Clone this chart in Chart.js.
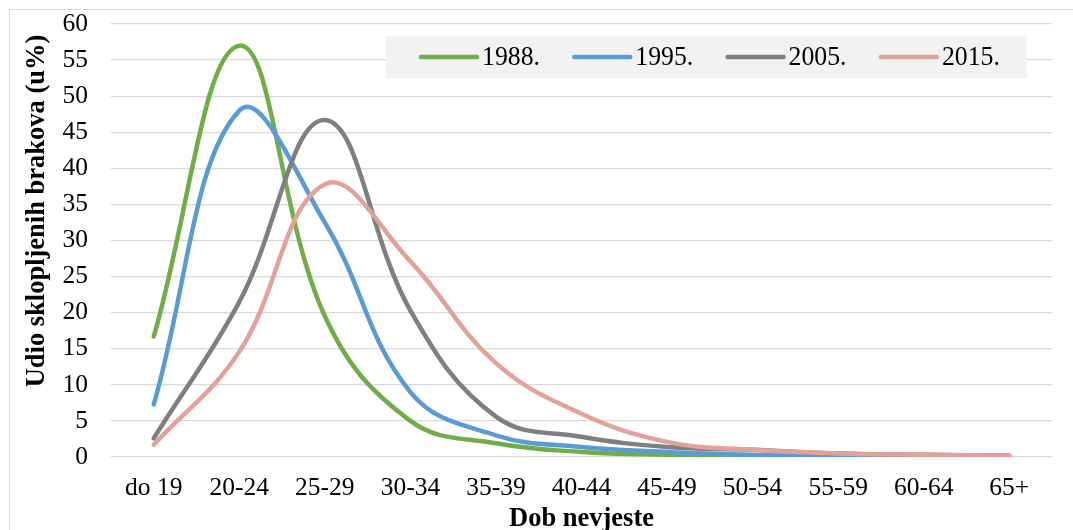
<!DOCTYPE html>
<html>
<head>
<meta charset="utf-8">
<script src="https://cdn.jsdelivr.net/npm/chart.js@4/dist/chart.umd.min.js"></script>
<style>
  html, body { margin: 0; padding: 0; background: #fff; overflow: hidden; }
  #wrap { position: relative; width: 1073px; height: 545px; }
  #frame { position: absolute; left: 9px; top: 9px; width: 1100px; height: 600px; border: 1.5px solid #d9d9d9; box-sizing: border-box; }
  canvas { position: absolute; left: 0; top: 0; }
</style>
</head>
<body>
<div id="wrap">
  <div id="frame"></div>
  <canvas id="chart" width="1073" height="545"></canvas>
</div>
<script>
const categories = ['do 19', '20-24', '25-29', '30-34', '35-39', '40-44', '45-49', '50-54', '55-59', '60-64', '65+']
const seriesNames = ['1988.', '1995.', '2005.', '2015.']
const values1988 = [16.7, 57, 19.5, 5, 1.9, 0.7, 0.3, 0.1, 0.05, 0.03, 0.02]
const values1995 = [7.3, 48, 32.5, 9, 3, 1.4, 0.7, 0.3, 0.1, 0.05, 0.05]
const values2005 = [2.6, 21.5, 46.7, 20.3, 5.6, 2.8, 1.4, 1.0, 0.5, 0.3, 0.2]
const values2015 = [1.7, 14.6, 37.8, 27.1, 13, 6, 2.1, 1.0, 0.5, 0.3, 0.2]
const yTicks = [0, 5, 10, 15, 20, 25, 30, 35, 40, 45, 50, 55, 60]

const colors = ['#70AD47', '#5B9BD5', '#7F7F7F', '#E2A29C']
const serif = '"Liberation Serif", "Times New Roman", serif'

// legend box drawn inside the plot, like the Excel original
const boxLegend = {
  id: 'boxLegend',
  afterDraw(chart) {
    const ctx = chart.ctx
    ctx.save()
    ctx.fillStyle = '#F2F2F2'
    ctx.fillRect(386, 36, 641, 42)
    chart.data.datasets.forEach((ds, i) => {
      const x = 421 + i * 153.3
      ctx.strokeStyle = ds.borderColor
      ctx.lineWidth = 4.5
      ctx.lineCap = 'round'
      ctx.beginPath()
      ctx.moveTo(x, 57)
      ctx.lineTo(x + 56, 57)
      ctx.stroke()
      ctx.save()
      ctx.translate(x + 61, 57)
      ctx.scale(0.92, 1)
      ctx.fillStyle = '#000'
      ctx.font = '28px ' + serif
      ctx.textBaseline = 'middle'
      ctx.fillText(ds.label, 0, 1)
      ctx.restore()
    })
    ctx.restore()
  }
}

const yTitle = {
  id: 'yTitle',
  afterDraw(chart) {
    const ctx = chart.ctx
    ctx.save()
    ctx.translate(37, 211)
    ctx.rotate(-Math.PI / 2)
    ctx.fillStyle = '#000'
    ctx.font = 'bold 26.5px ' + serif
    ctx.textAlign = 'center'
    ctx.textBaseline = 'middle'
    ctx.fillText('Udio sklopljenih brakova (u%)', 0, 0)
    ctx.restore()
  }
}

const allValues = [values1988, values1995, values2005, values2015]

new Chart(document.getElementById('chart').getContext('2d'), {
  type: 'line',
  data: {
    labels: categories,
    datasets: allValues.map((vals, i) => ({
      label: seriesNames[i],
      data: vals,
      borderColor: colors[i],
      backgroundColor: colors[i],
      borderWidth: 4.5,
      borderCapStyle: 'round',
      borderJoinStyle: 'round',
      tension: 0.4,
      pointRadius: 0,
      fill: false,
      order: 4 - i
    }))
  },
  options: {
    responsive: false,
    animation: false,
    layout: { padding: { top: 24, right: 21, left: 0, bottom: 0 } },
    plugins: {
      legend: { display: false },
      tooltip: { enabled: false }
    },
    scales: {
      x: {
        offset: true,
        grid: { display: false, drawTicks: false },
        border: { display: false },
        ticks: {
          color: '#000',
          padding: 16,
          maxRotation: 0,
          autoSkip: false,
          font: { family: serif, size: 25.5 }
        },
        title: {
          display: true,
          text: 'Dob nevjeste',
          color: '#000',
          font: { family: serif, size: 26.5, weight: 'bold' },
          padding: { top: 0, bottom: 10 }
        },
        afterFit(scale) { scale.height = 88 }
      },
      y: {
        min: 0,
        max: 60,
        afterBuildTicks(scale) { scale.ticks = yTicks.map(v => ({ value: v })) },
        // invisible tick marks give the label gap without padding the top
        grid: { color: '#D9D9D9', lineWidth: 1.3, drawTicks: true, tickLength: 23, tickColor: 'rgba(0,0,0,0)' },
        border: { display: false },
        ticks: {
          color: '#000',
          padding: 0,
          font: { family: serif, size: 25.5 }
        },
        afterFit(scale) { scale.width = 111 }
      }
    }
  },
  plugins: [boxLegend, yTitle]
})
</script>
</body>
</html>
